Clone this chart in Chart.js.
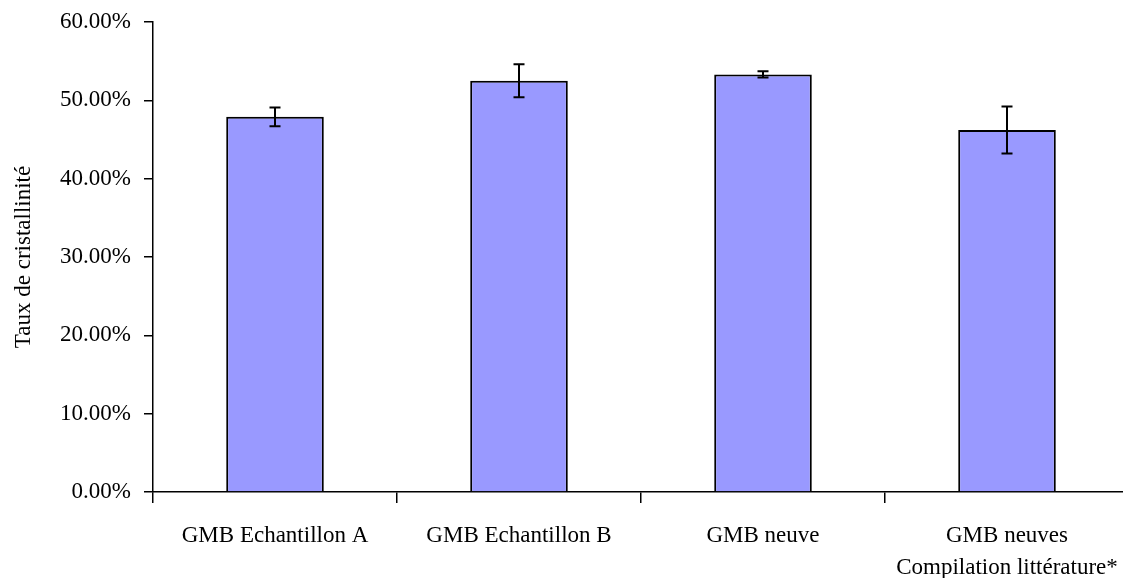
<!DOCTYPE html>
<html>
<head>
<meta charset="utf-8">
<script src="https://cdn.jsdelivr.net/npm/chart.js@4/dist/chart.umd.min.js"></script>
<style>
  html, body { margin: 0; padding: 0; background: #fff; overflow: hidden; }
  #wrap { width: 1123px; height: 578px; overflow: hidden; }
</style>
</head>
<body>
<div id="wrap"><canvas id="crystChart" width="1131" height="578"></canvas></div>
<script>
// Data
const categories = [
    "GMB Echantillon A",
    "GMB Echantillon B",
    "GMB neuve",
    ["GMB neuves", "Compilation littérature*"]
];
const crystallinity = [47.9, 52.5, 53.3, 46.2];   // %
const errorMargin = [1.2, 2.1, 0.4, 3.0];         // +/- %
const yTicks = [0, 10, 20, 30, 40, 50, 60];

const serif = "'Liberation Serif', 'Times New Roman', serif";

// Error bars drawn on top of the bars
const errorBars = {
    id: "errorBars",
    afterDatasetsDraw(chart) {
        const ctx = chart.ctx;
        const y = chart.scales.y;
        const meta = chart.getDatasetMeta(0);
        ctx.save();
        ctx.strokeStyle = "#000";
        ctx.lineWidth = 2;
        meta.data.forEach((bar, i) => {
            const top = y.getPixelForValue(crystallinity[i] + errorMargin[i]);
            const bot = y.getPixelForValue(crystallinity[i] - errorMargin[i]);
            ctx.beginPath();
            ctx.moveTo(bar.x, top);
            ctx.lineTo(bar.x, bot);
            ctx.moveTo(bar.x - 5.5, top);
            ctx.lineTo(bar.x + 5.5, top);
            ctx.moveTo(bar.x - 5.5, bot);
            ctx.lineTo(bar.x + 5.5, bot);
            ctx.stroke();
        });
        ctx.restore();
    }
};

new Chart(document.getElementById("crystChart"), {
    type: "bar",
    data: {
        labels: categories,
        datasets: [{
            data: crystallinity,
            backgroundColor: "#9999FF",
            borderColor: "#000",
            borderWidth: 2,
            barPercentage: 0.4,
            categoryPercentage: 1
        }]
    },
    options: {
        responsive: false,
        animation: false,
        layout: { padding: { top: 22, right: 2, left: 0, bottom: 0 } },
        plugins: {
            legend: { display: false },
            tooltip: { enabled: false }
        },
        scales: {
            y: {
                min: 0,
                max: 60,
                afterFit: s => {
                    s.width = 153;
                    s.paddingTop = 0;
                    s.paddingBottom = 0;
                },
                afterBuildTicks: s => { s.ticks = yTicks.map(v => ({ value: v })); },
                border: { color: "#000", width: 1.5 },
                grid: { drawOnChartArea: false, color: "#000", tickLength: 9, lineWidth: 1.5 },
                ticks: {
                    color: "#000",
                    padding: 13,
                    font: { family: serif, size: 23 },
                    callback: v => v.toFixed(2) + "%"
                },
                title: {
                    display: true,
                    text: "Taux de cristallinité",
                    color: "#000",
                    padding: { top: 10, bottom: 0 },
                    font: { family: serif, size: 23 }
                }
            },
            x: {
                afterFit: s => {
                    s.height = 86;
                    s.paddingLeft = 0;
                    s.paddingRight = 0;
                },
                border: { color: "#000", width: 1.5 },
                grid: { offset: true, drawOnChartArea: false, color: "#000", tickLength: 11, lineWidth: 1.5 },
                ticks: {
                    color: "#000",
                    padding: 17,
                    maxRotation: 0,
                    autoSkip: false,
                    font: { family: serif, size: 23, lineHeight: 1.4 }
                }
            }
        }
    },
    plugins: [errorBars]
});
</script>
</body>
</html>
